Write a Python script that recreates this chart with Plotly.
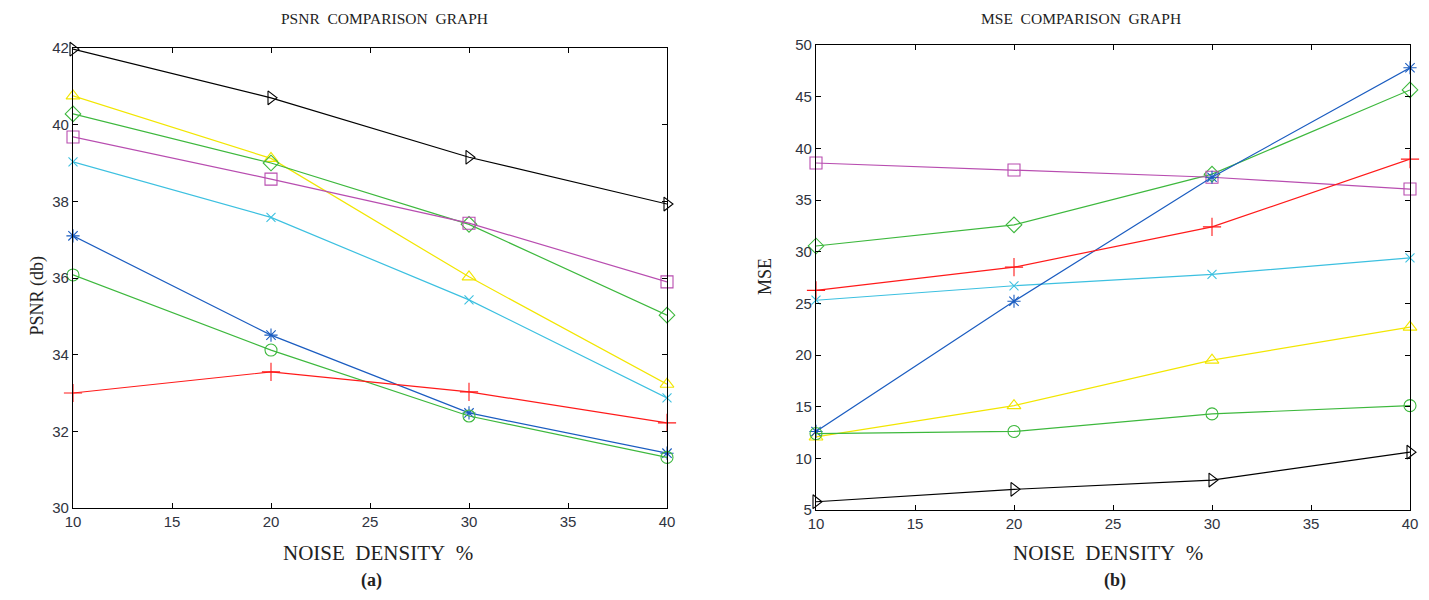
import plotly.graph_objects as go

noise = [10, 20, 30, 40]

# PSNR values (panel a)
psnr_black = [41.97, 40.70, 39.15, 37.93]
psnr_yellow = [40.75, 39.12, 36.03, 33.23]
psnr_gdiam = [40.28, 39.00, 37.40, 35.03]
psnr_magenta = [39.68, 38.58, 37.43, 35.90]
psnr_cyan = [39.03, 37.58, 35.43, 32.87]
psnr_blue = [37.10, 34.51, 32.48, 31.43]
psnr_gcirc = [36.08, 34.12, 32.40, 31.32]
psnr_red = [33.00, 33.55, 33.03, 32.22]

# MSE values (panel b)
mse_black = [5.8, 7.0, 7.9, 10.6]
mse_yellow = [12.07, 15.1, 19.5, 22.7]
mse_gdiam = [30.55, 32.6, 37.5, 45.65]
mse_magenta = [38.58, 37.9, 37.2, 36.06]
mse_cyan = [25.3, 26.7, 27.8, 29.4]
mse_blue = [12.6, 25.2, 37.2, 47.8]
mse_gcirc = [12.4, 12.6, 14.3, 15.1]
mse_red = [26.25, 28.5, 32.4, 38.96]

psnr_ticks = [30, 32, 34, 36, 38, 40, 42]
mse_ticks = [5, 10, 15, 20, 25, 30, 35, 40, 45, 50]
x_ticks = [10, 15, 20, 25, 30, 35, 40]

series = [
    ("black", "#000000", "triangle-right-open", 12, psnr_black, mse_black),
    ("yellow", "#F2E600", "triangle-up-open", 12, psnr_yellow, mse_yellow),
    ("gdiam", "#3DB83D", "diamond-open", 12, psnr_gdiam, mse_gdiam),
    ("magenta", "#B84DB0", "square-open", 12, psnr_magenta, mse_magenta),
    ("cyan", "#3CC0E0", "x-thin-open", 9, psnr_cyan, mse_cyan),
    ("blue", "#1A5CC0", "asterisk-open", 11, psnr_blue, mse_blue),
    ("gcirc", "#3DB83D", "circle-open", 12, psnr_gcirc, mse_gcirc),
    ("red", "#FF1A1A", "cross-thin-open", 13, psnr_red, mse_red),
]

fig = go.Figure()
for name, col, sym, sz, p, m in series:
    for vals, xa, ya in ((p, "x", "y"), (m, "x2", "y2")):
        fig.add_trace(go.Scatter(
            x=noise, y=vals, xaxis=xa, yaxis=ya, mode="lines+markers",
            line=dict(color=col, width=1.2),
            marker=dict(symbol=sym, size=sz, color=col, line=dict(color=col, width=1.1)),
            showlegend=False, name=name, cliponaxis=False))

W, H, OFF = 1429, 600, 8  # page body offset


def px(x):
    return (x - OFF) / W


def py(y):
    return 1 - (y - OFF) / H


ax_common = dict(showline=True, linecolor="#000", linewidth=1.2, mirror="ticks",
                 ticks="inside", ticklen=5, tickcolor="#000", showgrid=False, zeroline=False,
                 tickfont=dict(family="Liberation Sans, Arial", size=15, color="#2f3340"))
fig.update_layout(
    width=W, height=H, paper_bgcolor="white", plot_bgcolor="white",
    margin=dict(l=0, r=0, t=0, b=0, autoexpand=False),
    xaxis=dict(domain=[px(73), px(667)], range=[10, 40], tickvals=x_ticks, anchor="y", **ax_common),
    yaxis=dict(domain=[py(508), py(48)], range=[30, 42], tickvals=psnr_ticks, anchor="x", **ax_common),
    xaxis2=dict(domain=[px(816), px(1410)], range=[10, 40], tickvals=x_ticks, anchor="y2", **ax_common),
    yaxis2=dict(domain=[py(510), py(45)], range=[5, 50], tickvals=mse_ticks, anchor="x2", **ax_common),
)

serif = "Liberation Serif, Times New Roman, serif"
sp = "&nbsp;"
anns = [
    dict(x=385, y=18, text="PSNR" + sp + " COMPARISON" + sp + " GRAPH", size=15.5),
    dict(x=1081, y=18, text="MSE" + sp + " COMPARISON" + sp + " GRAPH", size=15.5),
    dict(x=378, y=553, text="NOISE" + sp + " DENSITY" + sp + " %", size=21),
    dict(x=1108, y=553, text="NOISE" + sp + " DENSITY" + sp + " %", size=21),
    dict(x=371, y=580, text="<b>(a)</b>", size=18),
    dict(x=1115, y=580, text="<b>(b)</b>", size=18),
]
for a in anns:
    fig.add_annotation(x=px(a["x"]), y=py(a["y"]), xref="paper", yref="paper",
                       text=a["text"], showarrow=False, xanchor="center", yanchor="middle",
                       font=dict(family=serif, size=a["size"], color="#222"))
fig.add_annotation(x=px(24), y=py(296), xref="paper", yref="paper", text="PSNR (db)",
                   textangle=-90, showarrow=False, font=dict(family=serif, size=18, color="#222"))
fig.add_annotation(x=px(765), y=py(277), xref="paper", yref="paper", text="MSE",
                   textangle=-90, showarrow=False, font=dict(family=serif, size=18, color="#222"))

fig.write_html("out.html")
